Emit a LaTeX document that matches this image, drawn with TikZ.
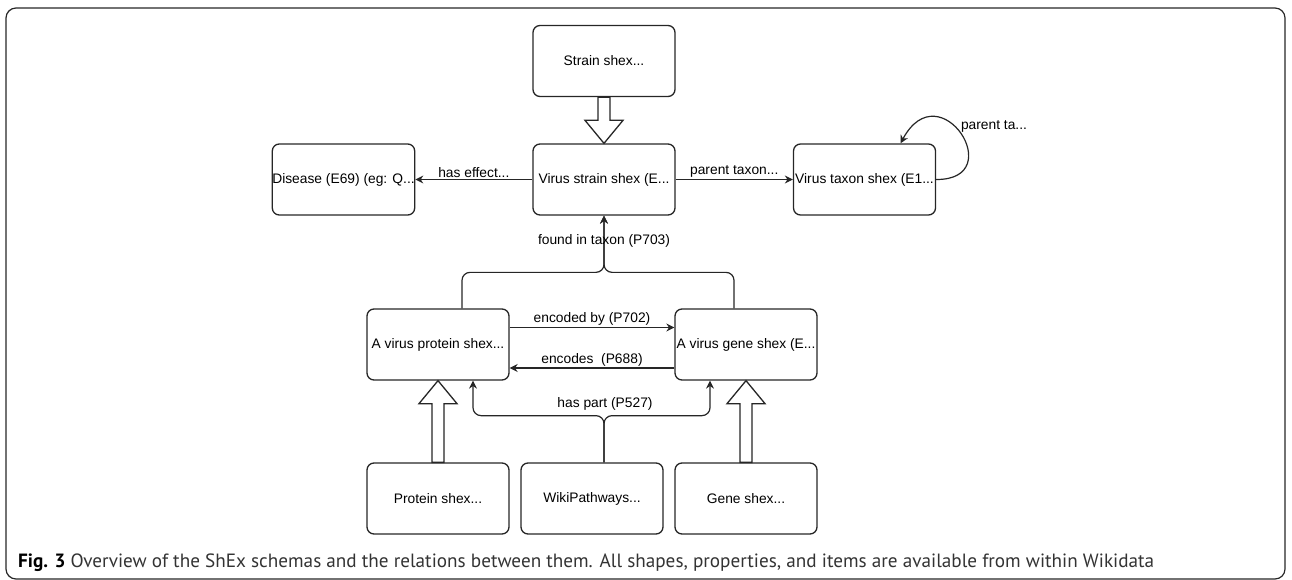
\documentclass[tikz,border=0pt]{standalone}
\usepackage{fontspec}
\setmainfont{Liberation Sans}
\newfontfamily\capfont{PT Sans}
\usetikzlibrary{calc,arrows.meta}

\begin{document}
\begin{tikzpicture}[x=1pt,y=-1pt,
	box/.style={draw=black!85,line width=1.3pt,rounded corners=7pt,minimum width=142pt,minimum height=71pt,inner sep=0pt,font=\fontsize{13.8}{16}\selectfont},
	conn/.style={-{Stealth[length=8pt,width=8pt]},line width=1.2pt,draw=black!85},
	lbl/.style={font=\fontsize{13.8}{16}\selectfont,inner sep=1.5pt},
	hollow/.style={draw=black!85,line width=1.3pt,fill=white,line join=miter}]
	\useasboundingbox (0,0) rectangle (1292,580);
	
	%frame
	\draw[line width=1.2pt,draw=black!85,rounded corners=10pt] (6,8) rectangle (1285,579);
	
	%boxes
	\node[box] (strain)  at (604,61)    {Strain shex...};
	\node[box] (disease) at (343.5,179.5) {Disease (E69) (eg: Q...};
	\node[box] (vstrain) at (604,179.5) {Virus strain shex (E...};
	\node[box] (vtaxon)  at (864.5,179.5) {Virus taxon shex (E1...};
	\node[box] (pvirus)  at (438,344.5) {A virus protein shex...};
	\node[box] (gvirus)  at (746,344.5) {A virus gene shex (E...};
	\node[box] (pshex)   at (438,498.5) {Protein shex...};
	\node[box] (wiki)    at (592,498.5) {WikiPathways...};
	\node[box] (gshex)   at (746,498.5) {Gene shex...};
	
	%hollow arrows
	\foreach \a/\ta/\b/\tb/\s in {strain/south/vstrain/north/-1, pshex/north/pvirus/south/1, gshex/north/gvirus/south/1}
		\draw[hollow] ($(\a.\ta)+(-6,0)$) -- ($(\b.\tb)+(-6,\s*23)$) -- ($(\b.\tb)+(-19,\s*23)$) -- (\b.\tb)
			-- ($(\b.\tb)+(19,\s*23)$) -- ($(\b.\tb)+(6,\s*23)$) -- ($(\a.\ta)+(6,0)$) -- cycle;
	
	%arrows
	\draw[conn] (vstrain) -- (disease) node[lbl,midway,above] (heff) {has effect...};
	\draw[conn] (vstrain) -- (vtaxon) node[lbl,midway,above] (ptax) {parent taxon...};
	\draw[conn] (vtaxon.east) .. controls (1010,180) and (940,70) .. ($(vtaxon.north)+(36,0)$);
	\node[lbl] (ploop) at (994,126) {parent ta...};
	\draw[conn,rounded corners=8pt] ($(pvirus.north)+(24,0)$) -- ($(pvirus.north)+(24,-36)$) -| (vstrain.south);
	\draw[conn,rounded corners=8pt] ($(gvirus.north)+(-12,0)$) -- ($(gvirus.north)+(-12,-36)$) -| (vstrain.south);
	\node[lbl] (fint) at (604,241) {found in taxon (P703)};
	\draw[conn] ($(pvirus.east)+(0,-17)$) -- ($(gvirus.west)+(0,-17)$) node[lbl,midway,above] (encby) {encoded by (P702)};
	\draw[conn] ($(gvirus.west)+(0,23.5)$) -- ($(pvirus.east)+(0,23.5)$) node[lbl,midway,above] (enc) {encodes~~(P688)};
	\draw[conn,rounded corners=8pt] (wiki.north -| vstrain.south) |- ($(pvirus.south)+(35,35)$) -- ($(pvirus.south)+(35,0)$);
	\draw[conn,rounded corners=8pt] (wiki.north -| vstrain.south) |- ($(gvirus.south)+(-36,35)$) -- ($(gvirus.south)+(-36,0)$);
	\node[lbl] (hpart) at (605,404) {has part (P527)};
	
	%caption
	\node[anchor=base west,inner sep=0pt,font=\capfont\fontsize{19.2}{22}\selectfont,text=black!80] (cap) at (18,567)
		{\textcolor{black}{\textbf{Fig. 3}} Overview of the ShEx schemas and the relations between them. All shapes, properties, and items are available from within Wikidata};
\end{tikzpicture}
\end{document}
